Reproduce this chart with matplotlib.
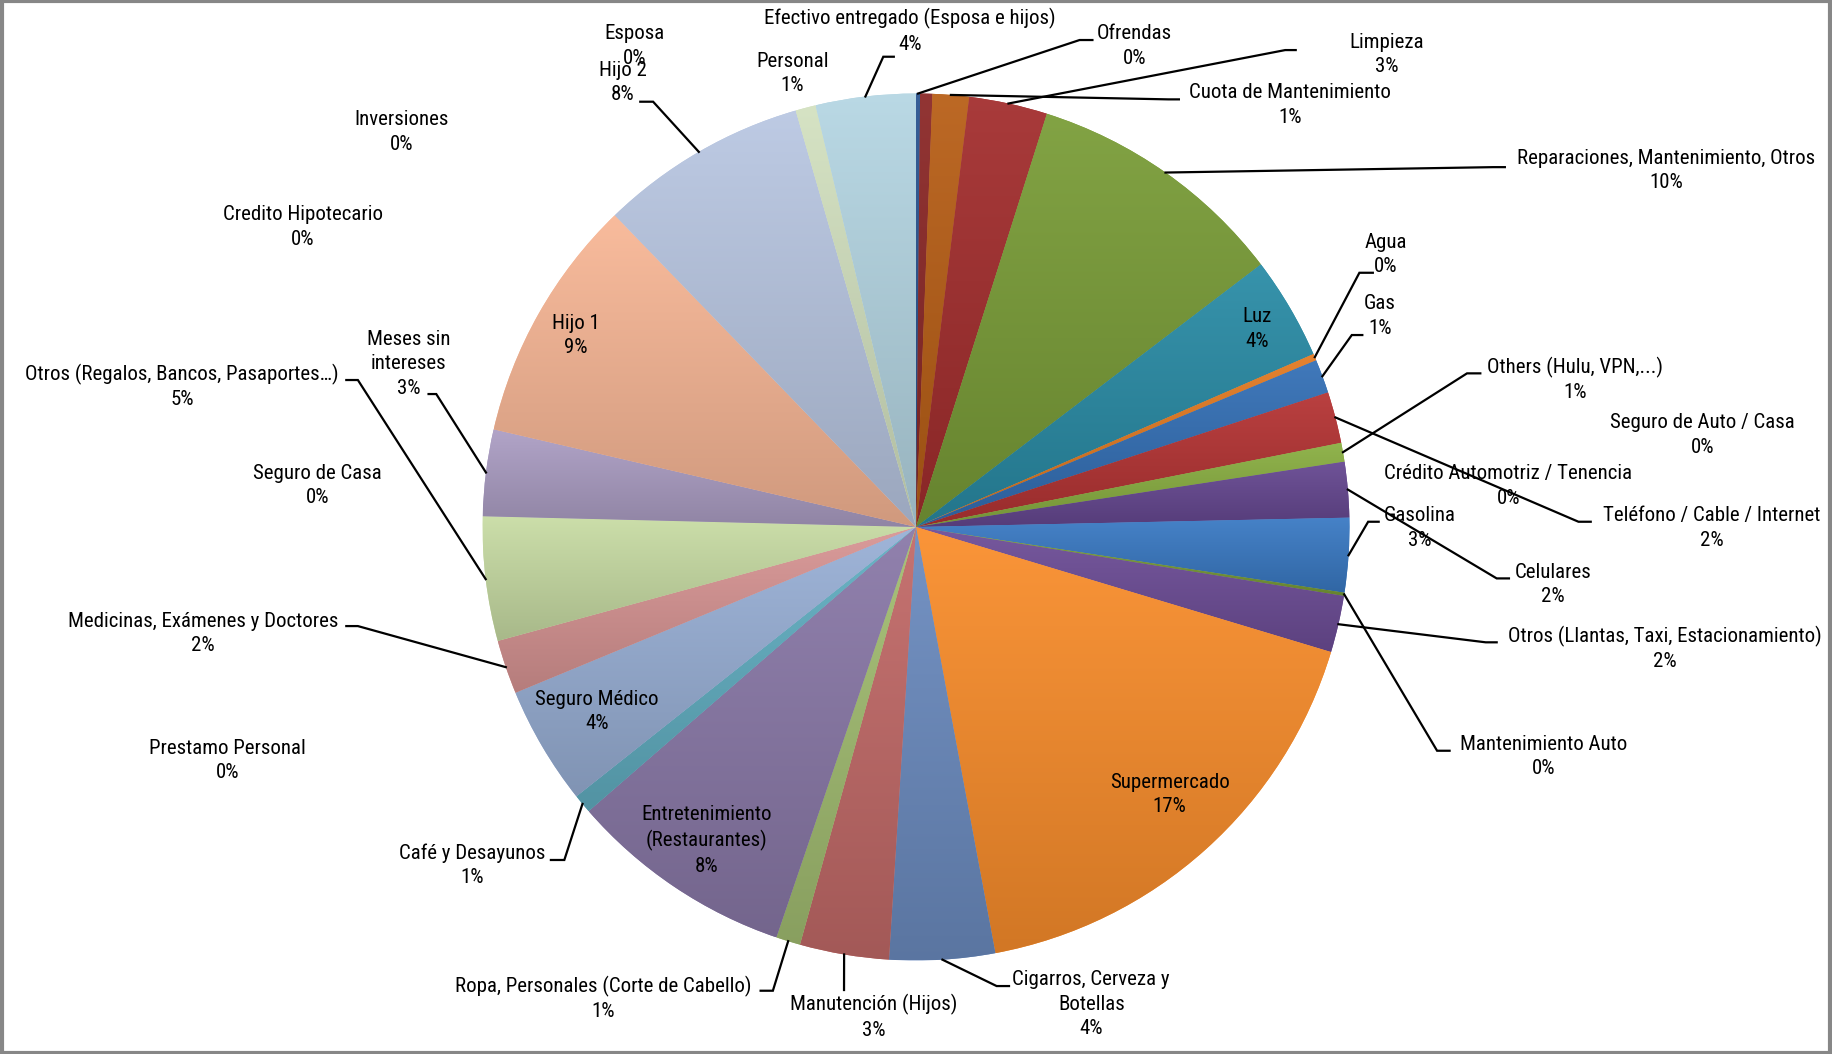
import numpy as np
import matplotlib
matplotlib.use('Agg')
import matplotlib.pyplot as plt
import matplotlib.patches as patches
from matplotlib import font_manager
from matplotlib.colors import to_rgb

# fuente parecida a Calibri
nombres = {f.name for f in font_manager.fontManager.ttflist}
fuente = next(f for f in ['Liberation Sans Narrow', 'Roboto Condensed', 'Open Sans', 'DejaVu Sans'] if f in nombres)
plt.rcParams['font.family'] = [fuente, 'DejaVu Sans']

##############################################################################
# datos (porcentaje del gasto, en orden de las rebanadas desde las 12 en punto)
categorias = ['Ofrendas', 'Esposa', 'Cuota de Mantenimiento', 'Limpieza',
              'Reparaciones, Mantenimiento, Otros', 'Luz', 'Agua', 'Gas',
              'Teléfono / Cable / Internet', 'Others (Hulu, VPN,...)',
              'Seguro de Auto / Casa', 'Crédito Automotriz / Tenencia',
              'Celulares', 'Gasolina', 'Mantenimiento Auto',
              'Otros (Llantas, Taxi, Estacionamiento)', 'Supermercado',
              'Cigarros, Cerveza y Botellas', 'Manutención (Hijos)',
              'Ropa, Personales (Corte de Cabello)', 'Entretenimiento (Restaurantes)',
              'Café y Desayunos', 'Prestamo Personal', 'Seguro Médico',
              'Medicinas, Exámenes y Doctores', 'Otros (Regalos, Bancos, Pasaportes…)',
              'Seguro de Casa', 'Meses sin intereses', 'Hijo 1',
              'Credito Hipotecario', 'Inversiones', 'Hijo 2', 'Personal',
              'Efectivo entregado (Esposa e hijos)']
valores = [0.15, 0.45, 1.35, 2.9,
           9.7, 3.8, 0.25, 1.25,
           1.9, 0.7,
           0, 0,
           2.05, 2.75, 0.12,
           2.1, 17.3,
           3.9, 3.3,
           0.9, 8.35,
           0.7, 0, 4.4,
           2.0, 4.6,
           0, 3.2, 9.1,
           0, 0, 7.7, 0.75,
           3.7]

colores = ['#2A5490', '#8B2827', '#B85F17', '#A32E2E',
           '#7A9D38', '#2A8CA6', '#E27A22', '#3470B6',
           '#B53434', '#8AAF42',
           '#FFFFFF', '#FFFFFF',
           '#664891', '#3A7AC4', '#7A9D38',
           '#6E4E98', '#FA8E2C',
           '#6C8CC0', '#C26A68',
           '#A3BE72', '#8A79A8',
           '#62AFC2', '#FFFFFF', '#99B0D6',
           '#D89594', '#C8DCA4',
           '#FFFFFF', '#AC9EC4', '#F8B796',
           '#FFFFFF', '#FFFFFF', '#B9C7E2', '#D3E1C0',
           '#B5D6E3']

# texto de cada rótulo (saltos de línea como en el original)
rotulos = {'Meses sin intereses': 'Meses sin\nintereses',
           'Cigarros, Cerveza y Botellas': 'Cigarros, Cerveza y\nBotellas',
           'Entretenimiento (Restaurantes)': 'Entretenimiento\n(Restaurantes)'}

# posiciones de los rótulos (pixeles del original, y hacia abajo)
pos_rotulo = {
    'Efectivo entregado (Esposa e hijos)': (779, 26.4),
    'Esposa': (543, 39.2),
    'Hijo 2': (533, 70.6),
    'Personal': (678, 62.7),
    'Ofrendas': (971, 39.2),
    'Limpieza': (1187, 46.5),
    'Cuota de Mantenimiento': (1104, 89.8),
    'Reparaciones, Mantenimiento, Otros': (1426, 146),
    'Agua': (1186, 218),
    'Gas': (1181, 270.3),
    'Luz': (1076, 281.5),
    'Others (Hulu, VPN,...)': (1348, 324.5),
    'Seguro de Auto / Casa': (1457, 372.3),
    'Crédito Automotriz / Tenencia': (1291, 415.8),
    'Teléfono / Cable / Internet': (1465, 451.8),
    'Gasolina': (1215, 451.8),
    'Celulares': (1329, 500),
    'Otros (Llantas, Taxi, Estacionamiento)': (1425, 554.8),
    'Mantenimiento Auto': (1321, 647.2),
    'Supermercado': (1001, 680),
    'Cigarros, Cerveza y Botellas': (934, 859.5),
    'Manutención (Hijos)': (748, 870.2),
    'Ropa, Personales (Corte de Cabello)': (516, 854.5),
    'Entretenimiento (Restaurantes)': (605, 719.2),
    'Café y Desayunos': (404, 740.5),
    'Seguro Médico': (511, 609),
    'Prestamo Personal': (195, 651),
    'Medicinas, Exámenes y Doctores': (174, 542.1),
    'Seguro de Casa': (272, 415.5),
    'Otros (Regalos, Bancos, Pasaportes…)': (156, 330.8),
    'Meses sin intereses': (350, 311.3),
    'Hijo 1': (493, 287),
    'Credito Hipotecario': (259, 194.1),
    'Inversiones': (344, 112.8),
}

# líneas guía: codo (x, y) y fin horizontal x
guias = {
    'Efectivo entregado (Esposa e hijos)': (756, 48.5, 765),
    'Hijo 2': (559, 87, 548),
    'Ofrendas': (924, 34.2, 935),
    'Limpieza': (1100, 42.8, 1109),
    'Cuota de Mantenimiento': (1000, 85, 1009),
    'Reparaciones, Mantenimiento, Otros': (1278, 143, 1288),
    'Agua': (1163.5, 233.4, 1175),
    'Gas': (1157, 286.7, 1166),
    'Others (Hulu, VPN,...)': (1255.6, 319.5, 1267),
    'Teléfono / Cable / Internet': (1351, 446.5, 1361.5),
    'Gasolina': (1171, 446.5, 1180),
    'Celulares': (1281, 495, 1291.5),
    'Otros (Llantas, Taxi, Estacionamiento)': (1271.6, 549.7, 1281),
    'Mantenimiento Auto': (1230, 642.5, 1240.7),
    'Cigarros, Cerveza y Botellas': (853, 843.9, 863.6),
    'Manutención (Hijos)': (722.4, 847.3, 722.4),
    'Ropa, Personales (Corte de Cabello)': (661.5, 847.9, 651),
    'Café y Desayunos': (483, 736, 471.5),
    'Medicinas, Exámenes y Doctores': (306.3, 535.8, 296.4),
    'Otros (Regalos, Bancos, Pasaportes…)': (306.3, 325.2, 296.4),
    'Meses sin intereses': (373.4, 337.2, 366.8),
}
##############################################################################

W, H = 1568, 902
CX, CY, R = 784, H - 451, 371

fig = plt.figure(figsize=(18.32, 10.54), dpi=100)
ax = fig.add_axes([0, 0, 1, 1])

wedges, _ = ax.pie(valores, colors=colores, startangle=90, counterclock=False,
                   radius=R, center=(CX, CY), normalize=True,
                   wedgeprops=dict(linewidth=0, antialiased=True))

# degradado vertical en cada rebanada (como Excel)
for w, c in zip(wedges, colores):
    if w.theta2 - w.theta1 < 1e-6:
        continue
    bb = w.get_path().get_extents()
    base = np.array(to_rgb(c))
    arriba = base + (1 - base) * 0.06
    abajo = base * 0.84
    t = np.linspace(0, 1, 64)[:, None, None]
    grad = abajo * (1 - t) + arriba * t
    im = ax.imshow(grad, extent=(bb.x0, bb.x1, bb.y0, bb.y1), origin='lower',
                   aspect='auto', interpolation='bilinear', zorder=2)
    im.set_clip_path(w)

total = float(np.sum(valores))
for nombre, v, w in zip(categorias, valores, wedges):
    pct = '{:.0f}%'.format(round(v / total * 100))
    texto = rotulos.get(nombre, nombre) + '\n' + pct
    x, y = pos_rotulo[nombre]
    ax.text(x, H - y, texto, ha='center', va='center', fontsize=15,
            linespacing=1.36, color='black', zorder=5)
    if nombre in guias:
        ang = np.deg2rad((w.theta1 + w.theta2) / 2)
        x0, y0 = CX + R * np.cos(ang), CY + R * np.sin(ang)
        ex, ey, fx = guias[nombre]
        ax.plot([x0, ex, fx], [y0, H - ey, H - ey], color='black', lw=1.6,
                solid_joinstyle='miter', zorder=4)

ax.set_xlim(0, W)
ax.set_ylim(0, H)
ax.set_aspect('equal')
ax.axis('off')

# borde del área del gráfico
fig.patches.append(patches.Rectangle((0.001, 0.001), 0.998, 0.998, transform=fig.transFigure,
                                     fill=False, edgecolor='#878787', linewidth=3))

fig.savefig('out.png', dpi=100, facecolor='white')
